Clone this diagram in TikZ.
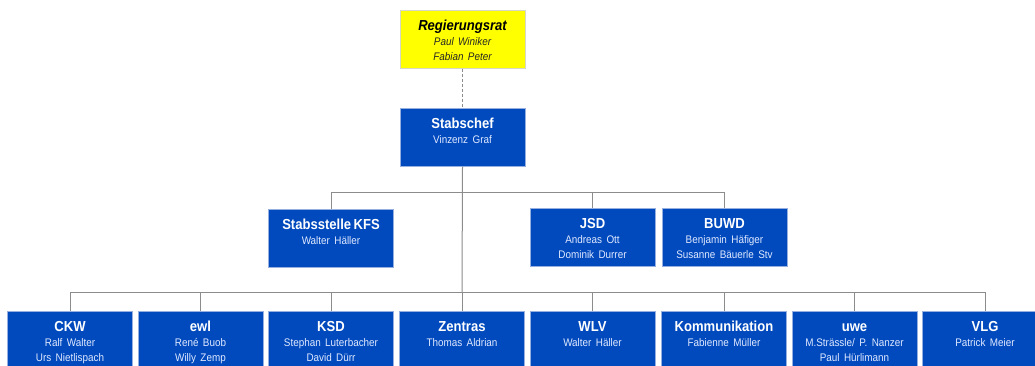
\documentclass[tikz,border=0pt]{standalone}
\usepackage{fontspec}
\setmainfont{Liberation Sans}[FakeStretch=0.9,WordSpace=1.6]
\definecolor{orgblue}{RGB}{0,74,190}
\definecolor{boxedge}{RGB}{150,175,225}
\definecolor{subtext}{RGB}{225,233,255}
\definecolor{conngray}{RGB}{140,140,140}
\definecolor{regyellow}{RGB}{255,255,0}
\definecolor{regedge}{RGB}{215,215,200}
\tikzset{
  box/.style={draw=boxedge, line width=0.6pt, fill=orgblue, minimum width=125pt, minimum height=58pt, inner sep=0pt, anchor=north},
  regbox/.style={box, draw=regedge, fill=regyellow},
  ttl/.style={anchor=base, font=\bfseries\fontsize{14.5}{16}\selectfont, text=white, inner sep=0pt},
  sub/.style={anchor=base, font=\fontsize{11}{13}\selectfont, text=subtext, inner sep=0pt},
  regttl/.style={ttl, font=\bfseries\itshape\fontsize{14.5}{16}\selectfont, text=black},
  regsub/.style={sub, font=\itshape\fontsize{11}{13}\selectfont, text=black!85},
  conn/.style={draw=conngray, line width=1pt},
  dashconn/.style={draw=conngray, line width=0.8pt, dash pattern=on 3pt off 2pt},
}
\newcommand\orgA[5]{% name, x, top, title, line1
  \node[box] (#1) at (#2,#3) {};
  \node[ttl] (#1-t) at ([yshift=-20pt]#1.north) {#4};
  \node[sub] (#1-a) at ([yshift=-35pt]#1.north) {#5};
}
\newcommand\orgB[6]{% name, x, top, title, line1, line2
  \orgA{#1}{#2}{#3}{#4}{#5}
  \node[sub] (#1-b) at ([yshift=-50pt]#1.north) {#6};
}
\begin{document}
\begin{tikzpicture}[x=1pt,y=-1pt]
\useasboundingbox (0,0) rectangle (1035,365);
\clip (0,0) rectangle (1035,365);
% top
\node[regbox] (reg) at (462.5,10) {};
\node[regttl] (reg-t) at ([yshift=-20pt]reg.north) {Regierungsrat};
\node[regsub] (reg-a) at ([yshift=-35pt]reg.north) {Paul Winiker};
\node[regsub] (reg-b) at ([yshift=-50pt]reg.north) {Fabian Peter};
\orgA{stab}{462.5}{108}{Stabschef}{Vinzenz Graf}
% level 2
\orgA{kfs}{331}{209}{Stabsstelle\,KFS}{Walter Häller}
\orgB{jsd}{592.5}{208}{JSD}{Andreas Ott}{Dominik Durrer}
\orgB{buwd}{724.5}{208}{BUWD}{Benjamin Häfiger}{Susanne Bäuerle Stv}
% level 3
\orgB{ckw}{70}{311}{CKW}{Ralf Walter}{Urs Nietlispach}
\orgB{ewl}{200.5}{311}{ewl}{René Buob}{Willy Zemp}
\orgB{ksd}{331}{311}{KSD}{Stephan Luterbacher}{David Dürr}
\orgA{zen}{462}{311}{Zentras}{Thomas Aldrian}
\orgA{wlv}{592.5}{311}{WLV}{Walter Häller}
\orgA{kom}{724}{311}{Kommunikation}{Fabienne Müller}
\orgB{uwe}{854.5}{311}{uwe}{M.Strässle/ P. Nanzer}{Paul Hürlimann}
\orgA{vlg}{985}{311}{VLG}{Patrick Meier}
% buses
\coordinate (bus2) at (462,192);
\coordinate (bus3) at (462,292);
\begin{scope}[on background layer/.try]
\end{scope}
\draw[dashconn] (reg.south) -- (stab.north);
\draw[conn] (stab.south) -- (bus3);
\foreach \n in {kfs,jsd,buwd}{\draw[conn] (\n.north) |- (bus2);}
\foreach \n in {ckw,ewl,ksd,zen,wlv,kom,uwe,vlg}{\draw[conn] (\n.north) |- (bus3);}
\end{tikzpicture}
\end{document}
